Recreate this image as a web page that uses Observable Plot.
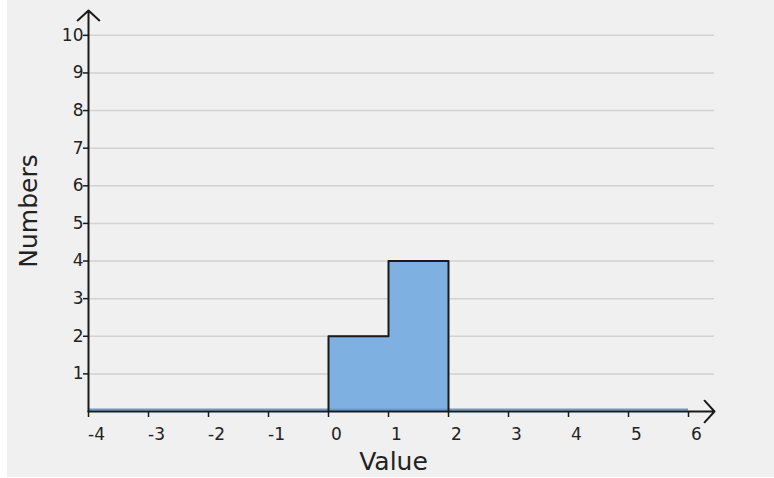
<!DOCTYPE html>
<html>
<head>
<meta charset="utf-8">
<script src="https://cdn.jsdelivr.net/npm/d3@7"></script>
<script src="https://cdn.jsdelivr.net/npm/@observablehq/plot@0.6"></script>
<style>
  html, body { margin: 0; padding: 0; background: #ffffff; }
  #chart { margin-left: 7px; width: 767px; height: 477px; background: #f0f0f0; }
  #chart svg { display: block; background: #f0f0f0; }
  #chart g[aria-label="x-axis tick label"], #chart g[aria-label="y-axis tick label"] { font-size: 17px; }
</style>
</head>
<body>
<div id="chart"></div>
<script>
// Histogram data
const edges = [-4, -3, -2, -1, 0, 1, 2, 3, 4, 5, 6];
const counts = [0, 0, 0, 0, 2, 4, 0, 0, 0, 0];
const xTicks = [-4, -3, -2, -1, 0, 1, 2, 3, 4, 5, 6];
const yTicks = [1, 2, 3, 4, 5, 6, 7, 8, 9, 10];
const xTitle = "Value";
const yTitle = "Numbers";

const xMax = 6.4333; // axis extends past last tick to the arrow
const yMax = 10.66;

const bins = counts.map((c, i) => ({x1: edges[i], x2: edges[i + 1], y: c}));
const filled = bins.filter(b => b.y > 0);
const outline = [{x: filled[0].x1, y: 0}];
filled.forEach(b => { outline.push({x: b.x1, y: b.y}); outline.push({x: b.x2, y: b.y}); });
outline.push({x: filled[filled.length - 1].x2, y: 0});

const barFill = "#7eb0e2";
const ink = "#1a1a1a";
const fmt = d => String(d);

const chart = Plot.plot({
  width: 767,
  height: 477,
  marginLeft: 81,
  marginRight: 60,
  marginTop: 10,
  marginBottom: 66,
  style: {fontFamily: "DejaVu Sans", fontSize: "17px", color: "#222", background: "#f0f0f0"},
  x: {domain: [-4, xMax]},
  y: {domain: [0, yMax]},
  marks: [
    Plot.gridY(yTicks, {stroke: "#d2d2d2", strokeOpacity: 1, strokeWidth: 1.5}),
    Plot.rectY(bins, {x1: "x1", x2: "x2", y: "y", fill: barFill}),
    Plot.ruleY([0], {x1: edges[0], x2: edges[edges.length - 1], stroke: "#5f9bd8", strokeWidth: 2, dy: -2}),
    Plot.line(outline, {x: "x", y: "y", stroke: ink, strokeWidth: 2}),
    Plot.arrow([{x1: -4, y1: 0, x2: xMax, y2: 0}], {x1: "x1", y1: "y1", x2: "x2", y2: "y2", stroke: ink, strokeWidth: 2, headLength: 11, headAngle: 95}),
    Plot.arrow([{x1: -4, y1: 0, x2: -4, y2: yMax}], {x1: "x1", y1: "y1", x2: "x2", y2: "y2", stroke: ink, strokeWidth: 2, headLength: 11, headAngle: 95}),
    Plot.axisX(xTicks, {tickSize: 6, strokeWidth: 1.5, stroke: ink, tickFormat: () => "", label: null}),
    Plot.axisX(xTicks, {tickSize: 0, tickPadding: 16, dx: 8, label: null, fill: "#222", tickFormat: fmt}),
    Plot.axisY(yTicks, {tickSize: 5, tickPadding: 0, strokeWidth: 1.5, stroke: ink, label: null, fill: "#222", tickFormat: fmt}),
    Plot.text([xTitle], {frameAnchor: "bottom", dx: -8, dy: 50, lineAnchor: "middle", textAnchor: "middle", fontSize: 25, fill: "#222"}),
    Plot.text([yTitle], {frameAnchor: "left", dx: -60, rotate: -90, lineAnchor: "middle", textAnchor: "middle", fontSize: 25, fill: "#222"})
  ]
});
document.getElementById("chart").appendChild(chart);
</script>
</body>
</html>
